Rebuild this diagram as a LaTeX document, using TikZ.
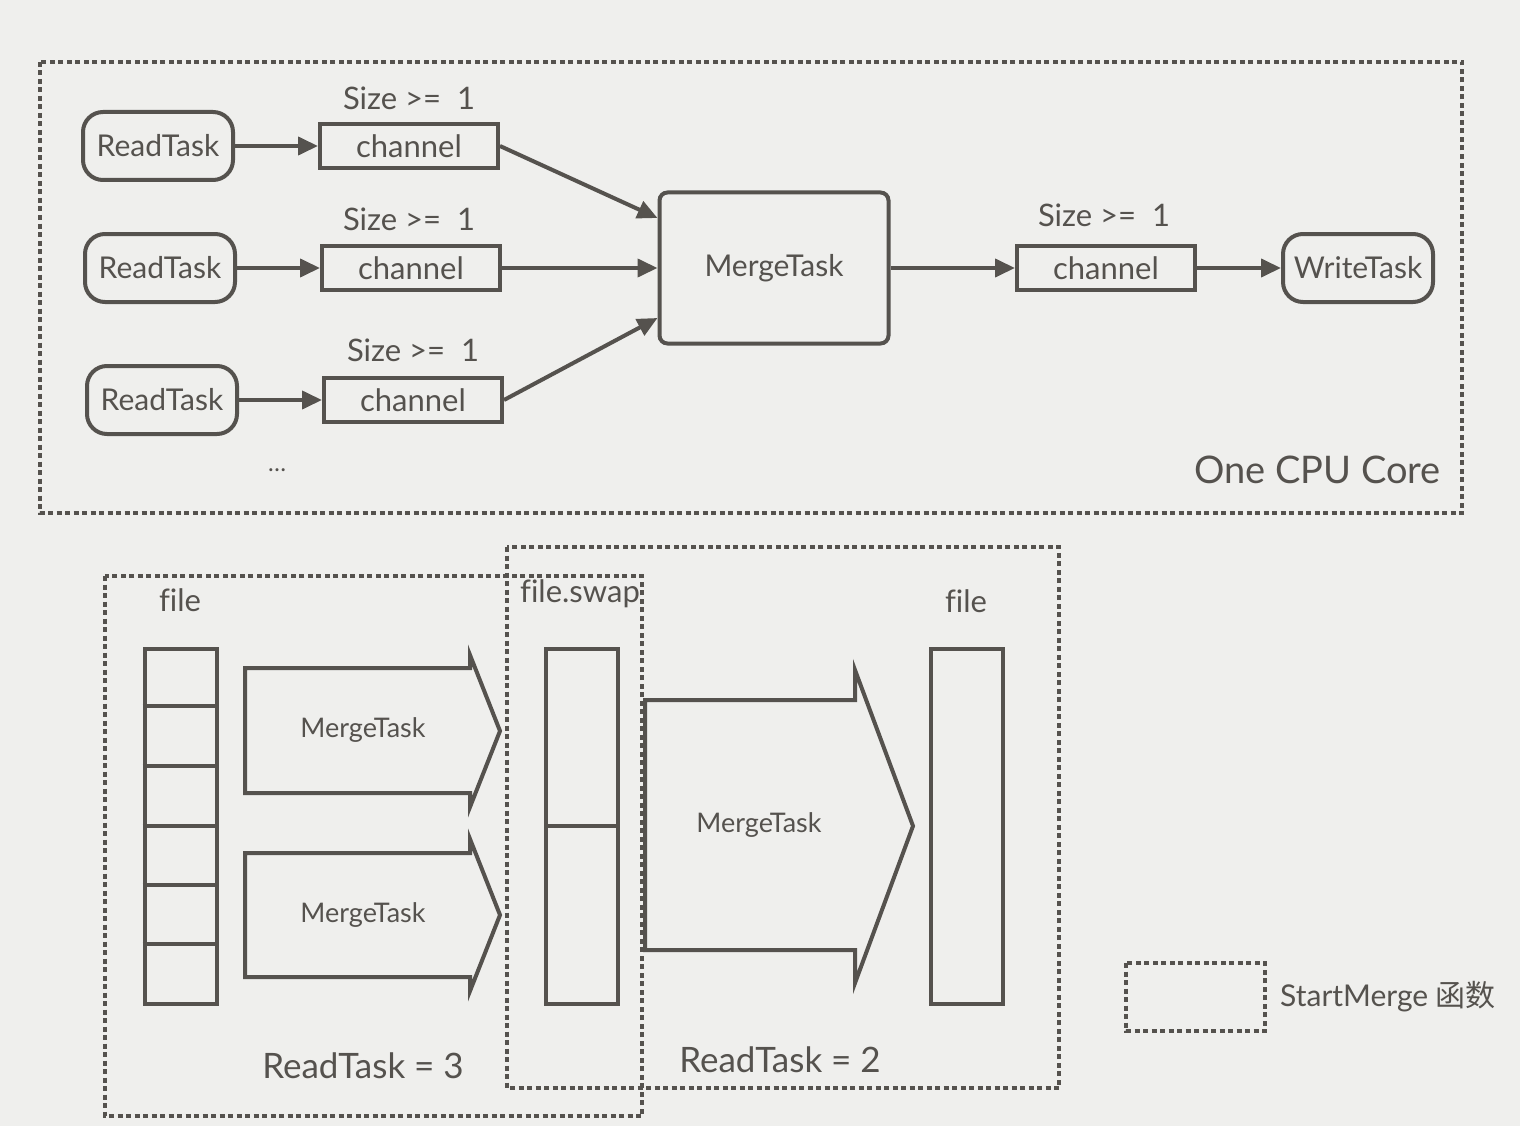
\documentclass[tikz,border=0pt]{standalone}
\usepackage{fontspec}
\setmainfont{Lato}[Ligatures=NoCommon]
\newfontfamily\cjk{Noto Sans CJK SC}
\usetikzlibrary{arrows.meta}

\definecolor{ink}{RGB}{85,82,78}
\definecolor{paper}{RGB}{239,239,237}

\tikzset{
    task/.style={draw=ink, line width=4pt, rounded corners=20pt, minimum width=150pt, minimum height=68pt, inner sep=0pt, text=ink, font=\fontsize{30}{34}\selectfont},
    chan/.style={draw=ink, line width=4pt, minimum width=178pt, minimum height=44pt, inner sep=0pt, text=ink, font=\fontsize{31}{34}\selectfont},
    merge/.style={draw=ink, line width=4pt, rounded corners=8pt, minimum width=229pt, minimum height=151pt, inner sep=0pt, text=ink, font=\fontsize{30}{34}\selectfont},
    flow/.style={draw=ink, line width=4pt, -{Triangle[length=20pt,width=18pt]}},
    dotbox/.style={draw=ink, line width=4pt, dash pattern=on 5pt off 3.5pt},
    lbl/.style={text=ink, inner sep=0pt, font=\fontsize{31}{34}\selectfont},
    col/.style={draw=ink, line width=4pt, minimum width=72pt, minimum height=355pt, inner sep=0pt},
    blk/.style={draw=ink, line width=4pt, line join=miter},
}

\begin{document}
\begin{tikzpicture}[x=1pt, y=-1pt]
    \fill[paper] (0, 0) rectangle (1520, 1126);

    % one cpu core
    \draw[dotbox] (40, 62) rectangle (1462, 513);

    \node[task] (rt1) at (158, 146) {ReadTask};
    \node[task] (rt2) at (160, 268) {ReadTask};
    \node[task] (rt3) at (162, 400) {ReadTask};

    \node[chan] (ch1) at (409, 146) {channel};
    \node[chan] (ch2) at (411, 268) {channel};
    \node[chan] (ch3) at (413, 400) {channel};
    \node[chan] (ch4) at (1106, 268) {channel};

    \node[lbl] (sz1) at (409, 98) {Size >=\ \ 1};
    \node[lbl] (sz2) at (409, 219) {Size >=\ \ 1};
    \node[lbl] (sz3) at (413, 350) {Size >=\ \ 1};
    \node[lbl] (sz4) at (1104, 215) {Size >=\ \ 1};

    \node[merge] (mt) at (774, 268) {MergeTask};
    \node[task] (wt) at (1358, 268) {WriteTask};

    \draw[flow] (rt1.east) -- (ch1.west);
    \draw[flow] (rt2.east) -- (ch2.west);
    \draw[flow] (rt3.east) -- (ch3.west);
    \draw[flow] (ch1.east) -- ([yshift=50pt]mt.west);
    \draw[flow] (ch2.east) -- (mt.west);
    \draw[flow] (ch3.east) -- ([yshift=-50pt]mt.west);
    \draw[flow] (mt.east) -- (ch4.west);
    \draw[flow] (ch4.east) -- (wt.west);

    \node[lbl, font=\fontsize{24}{28}\selectfont] (dots) at (277, 470) {\ldots};
    \node[lbl, anchor=east, font=\fontsize{38}{42}\selectfont] (core) at (1441, 470) {One CPU Core};

    % start merge
    \draw[dotbox] (105, 576) rectangle (642, 1116);
    \draw[dotbox] (507, 547) rectangle (1059, 1088);

    \node[lbl] (fl1) at (180, 600) {file};
    \node[lbl] (fsw) at (580, 594) {file.swap};
    \node[lbl] (fl2) at (966, 601) {file};

    \node[col] (c1) at (180.5, 826) {};
    \draw[ink, line width=4pt] (c1.west |- 0, 706) -- (c1.east |- 0, 706);
    \draw[ink, line width=4pt] (c1.west |- 0, 766) -- (c1.east |- 0, 766);
    \draw[ink, line width=4pt] (c1.west |- 0, 826) -- (c1.east |- 0, 826);
    \draw[ink, line width=4pt] (c1.west |- 0, 885) -- (c1.east |- 0, 885);
    \draw[ink, line width=4pt] (c1.west |- 0, 944) -- (c1.east |- 0, 944);

    \node[col] (c2) at (582, 826) {};
    \draw[ink, line width=4pt] (c2.west) -- (c2.east);

    \node[col] (c3) at (967, 826.5) {};

    \draw[blk] (245, 668) -- (470, 668) -- (470, 655) -- (500, 731) -- (470, 807) -- (470, 793) -- (245, 793) -- cycle;
    \draw[blk] (245, 853) -- (470, 853) -- (470, 839) -- (500, 915) -- (470, 991) -- (470, 977) -- (245, 977) -- cycle;
    \draw[blk] (645, 700) -- (855, 700) -- (855, 670) -- (913, 826) -- (855, 983) -- (855, 950) -- (645, 950) -- cycle;

    \node[lbl, font=\fontsize{27}{30}\selectfont] (m1) at (363, 730) {MergeTask};
    \node[lbl, font=\fontsize{27}{30}\selectfont] (m2) at (363, 915) {MergeTask};
    \node[lbl, font=\fontsize{27}{30}\selectfont] (m3) at (759, 825) {MergeTask};

    \node[lbl, font=\fontsize{35}{40}\selectfont] (rk3) at (363, 1066) {ReadTask = 3};
    \node[lbl, font=\fontsize{35}{40}\selectfont] (rk2) at (780, 1060) {ReadTask = 2};

    % legend
    \draw[dotbox] (1126, 963) rectangle (1265, 1031);
    \node[lbl, anchor=west, font=\fontsize{30}{34}\selectfont] (leg) at (1280, 997) {StartMerge {\cjk 函数}};
\end{tikzpicture}
\end{document}
